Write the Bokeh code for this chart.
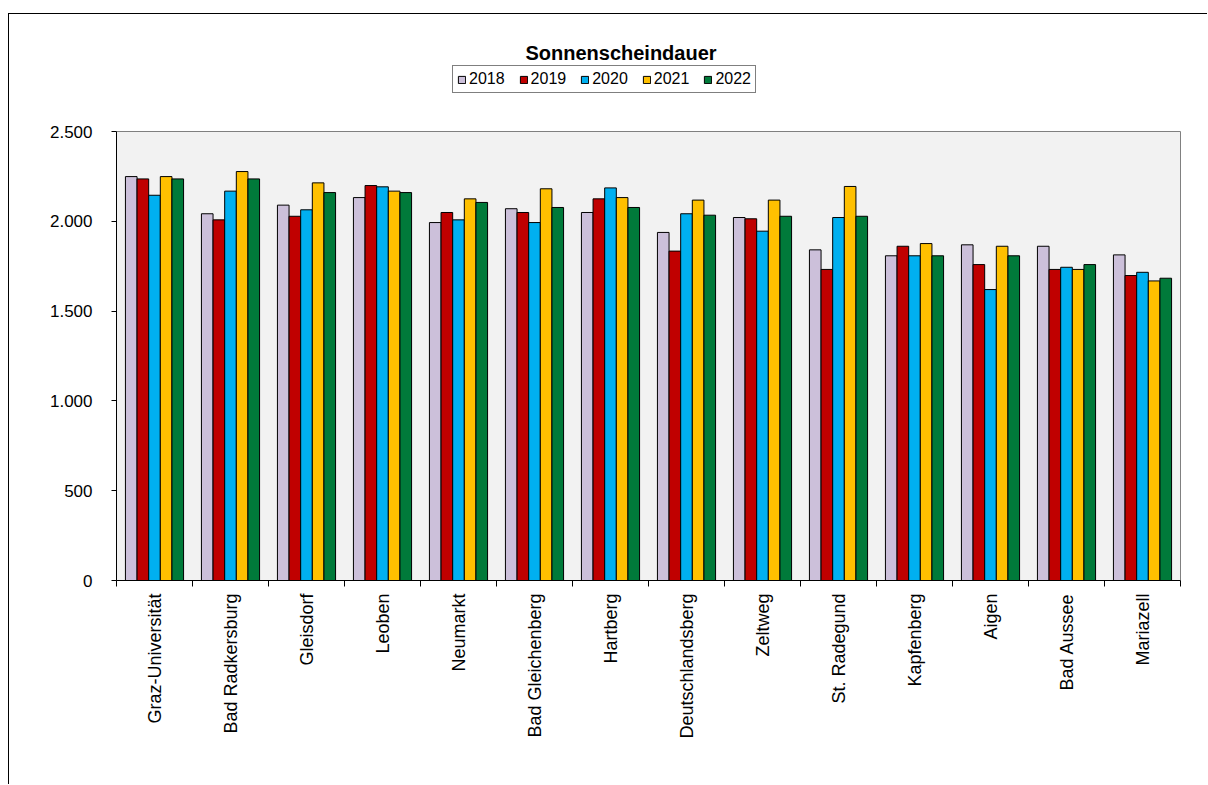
import numpy as np
from bokeh.plotting import figure
from bokeh.models import Range1d, FixedTicker, CustomJSTickFormatter, Label, Legend, LegendItem
from bokeh.embed import file_html
from bokeh.resources import INLINE

stations = ["Graz-Universität", "Bad Radkersburg", "Gleisdorf", "Leoben", "Neumarkt",
            "Bad Gleichenberg", "Hartberg", "Deutschlandsberg", "Zeltweg", "St. Radegund",
            "Kapfenberg", "Aigen", "Bad Aussee", "Mariazell"]
years = ["2018", "2019", "2020", "2021", "2022"]
v2018 = [2249, 2042, 2090, 2132, 1993, 2070, 2049, 1938, 2021, 1841, 1808, 1869, 1861, 1813]
v2019 = [2236, 2008, 2028, 2199, 2049, 2049, 2125, 1834, 2014, 1732, 1861, 1759, 1732, 1698]
v2020 = [2145, 2168, 2064, 2192, 2008, 1993, 2186, 2042, 1945, 2021, 1808, 1620, 1744, 1716]
v2021 = [2249, 2277, 2214, 2168, 2125, 2181, 2132, 2118, 2118, 2194, 1876, 1861, 1732, 1668]
v2022 = [2236, 2236, 2160, 2160, 2105, 2077, 2077, 2034, 2028, 2028, 1808, 1808, 1759, 1683]
series = [v2018, v2019, v2020, v2021, v2022]
y_ticks = [0, 500, 1000, 1500, 2000, 2500]
y_tick_labels = ["0", "500", "1.000", "1.500", "2.000", "2.500"]
grid_ticks = [500, 1000, 1500, 2000]
y_top = 2500
colors = ["#CCC0DA", "#C00000", "#00B0F0", "#FFC000", "#007A3A"]
title_text = "Sonnenscheindauer"

FONT = "Liberation Sans"
n = len(stations)
bw = 0.153

# frame geometry (pixels)
FRAME_W, FRAME_H = 1065, 548
PLOT_H = 449  # pixels used by 0..2500
x_end = n * FRAME_W / 1064.0
y_end = y_top * FRAME_H / PLOT_H
px = PLOT_H / y_top

p = figure(width=1199, height=771, x_range=Range1d(0, x_end), y_range=Range1d(0, y_end),
           output_backend="svg", toolbar_location=None,
           min_border_left=107, min_border_right=27, min_border_top=18, min_border_bottom=205)
p.margin = (13, 0, 0, 8)
p.styles = {"border-left": "1px solid #000000", "border-top": "1px solid #000000"}
p.background_fill_color = "#FFFFFF"
p.border_fill_color = "#FFFFFF"
p.outline_line_color = None

# plot area background
p.quad(left=[0], right=[n], bottom=[0], top=[y_top], fill_color="#F2F2F2", line_color=None)

# grid
p.xgrid.visible = False
p.ygrid.ticker = FixedTicker(ticks=grid_ticks)
p.ygrid.bounds = (0, n)
p.ygrid.grid_line_color = "#000000"
p.ygrid.grid_line_dash = "3 2"
p.ygrid.grid_line_width = 1
p.ygrid.grid_line_alpha = 0.85

# plot area border (top and right)
p.line(x=[0, n, n], y=[y_top, y_top, 0], line_color="#808080", line_width=1)

idx = np.arange(n)
renderers = []
for k, (vals, col) in enumerate(zip(series, colors)):
    xs = idx + 0.5 + (k - 2) * bw
    r = p.vbar(x=xs, top=vals, width=bw, bottom=0, fill_color=col,
               line_color="#000000", line_width=1)
    renderers.append(r)

# y axis
ya = p.yaxis[0]
ya.bounds = (0, y_top)
ya.ticker = FixedTicker(ticks=y_ticks)
ya.major_label_overrides = {t: l for t, l in zip(y_ticks, y_tick_labels)}
ya.major_tick_in = 0
ya.major_tick_out = 5
ya.minor_tick_line_color = None
ya.axis_line_color = "#000000"
ya.major_tick_line_color = "#000000"
ya.major_label_text_font = FONT
ya.major_label_text_font_size = "17px"
ya.major_label_text_color = "#000000"
ya.major_label_standoff = 19

# x axis
xa = p.xaxis[0]
xa.bounds = (0, n)
xa.ticker = FixedTicker(ticks=list(idx + 0.5), minor_ticks=list(range(n + 1)))
xa.formatter = CustomJSTickFormatter(args=dict(names=stations),
                                     code="return names[Math.floor(tick)] || '';")
xa.major_tick_line_color = None
xa.major_tick_in = 0
xa.major_tick_out = 0
xa.minor_tick_line_color = "#000000"
xa.minor_tick_in = 0
xa.minor_tick_out = 6
xa.axis_line_color = "#000000"
xa.major_label_orientation = np.pi / 2
xa.major_label_text_font = FONT
xa.major_label_text_font_size = "18px"
xa.major_label_text_color = "#000000"
xa.major_label_standoff = 7

# title
p.add_layout(Label(x=(620.5 - 116) / 76.0, y=(580 - 52) / px, text=title_text,
                   text_font=FONT, text_font_size="20px", text_font_style="bold",
                   text_align="center", text_baseline="middle", text_color="#000000"))

legend = Legend(items=[LegendItem(label=y, renderers=[r]) for y, r in zip(years, renderers)],
                orientation="horizontal", location=(336, 487))
legend.glyph_width = 9
legend.glyph_height = 9
legend.label_standoff = 3
legend.spacing = 14
legend.padding = 4
legend.margin = 0
legend.label_text_font = FONT
legend.label_text_font_size = "16px"
legend.label_text_color = "#000000"
legend.border_line_color = "#000000"
legend.border_line_width = 1
legend.background_fill_color = "#FFFFFF"
legend.background_fill_alpha = 1
p.add_layout(legend, "center")

open("out.html", "w").write(file_html(p, INLINE))
